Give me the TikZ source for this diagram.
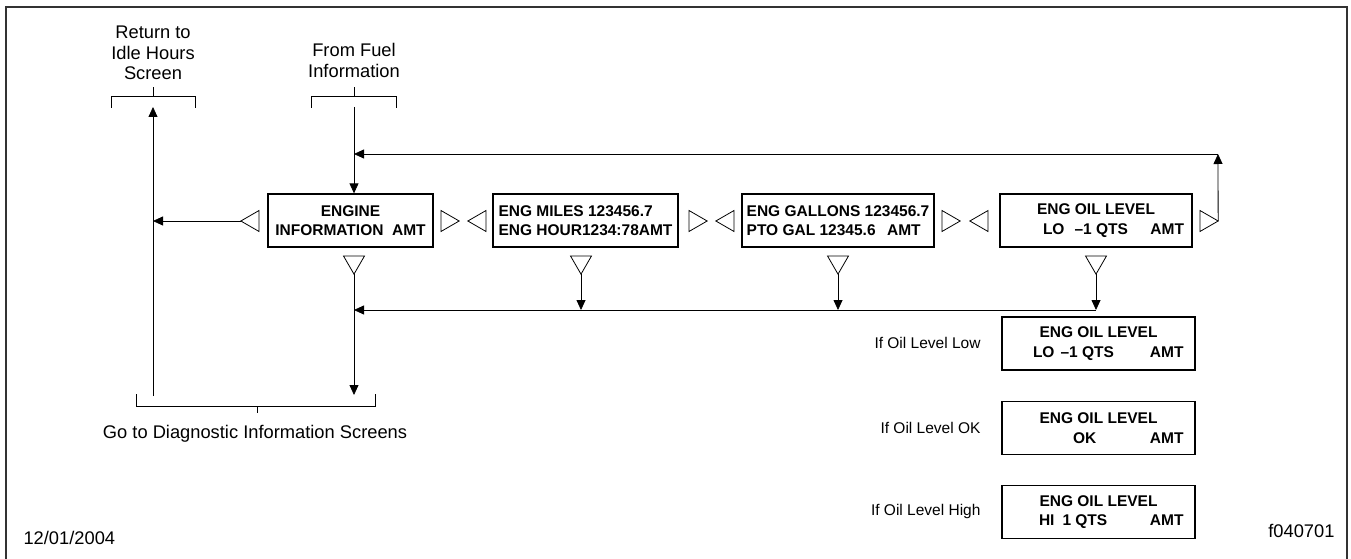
\documentclass[tikz,border=0pt]{standalone}
\usepackage{fontspec}
\setmainfont{Liberation Sans}
\usetikzlibrary{arrows.meta,shapes.geometric}

\begin{document}
\begin{tikzpicture}[x=1pt,y=-1pt, screen/.style={draw,line width=1.3pt,inner sep=0pt,minimum height=53pt,align=center,font=\fontsize{15.5}{19.5}\selectfont\bfseries}, tri/.style={draw,fill=white,line width=0.8pt,regular polygon,regular polygon sides=3,minimum size=24.2pt,inner sep=0pt,outer sep=0pt,anchor=side 2}, lbl/.style={align=center,font=\fontsize{18.3}{20.3}\selectfont}, oillbl/.style={anchor=east,font=\fontsize{15.5}{18}\selectfont}, arr/.style={-{Triangle[length=10pt,width=9pt]},line width=0.8pt}, brk/.style={line width=0.8pt}]
\useasboundingbox (0,0) rectangle (1351,559);
\draw[line width=2pt,black!80] (6,559) -- (6,7) -- (1347,7) -- (1347,559);
% labels and brackets
\node[lbl] (idle) at (153,53) {Return to\\Idle Hours\\Screen};
\node[lbl] (fuel) at (354,60.5) {From Fuel\\Information};
\node[lbl] (diag) at (255,434) {Go to Diagnostic Information Screens};
\node[lbl,anchor=west] (date) at (20,538) {12/01/2004};
\node[lbl,anchor=east] (fig) at (1338,531) {f040701};
\draw[brk] (111,108) -- (111,96) -- (195,96) -- (195,108) (153,96) -- (153,87);
\draw[brk] (311,108) -- (311,96) -- (396,96) -- (396,108) (354,96) -- (354,87);
\draw[brk] (136,394) -- (136,406) -- (375,406) -- (375,394) (257,406) -- (257,413);
% screens
\node[screen,minimum width=165pt] (b1) at (350.5,220.5) {ENGINE\\INFORMATION\ \ AMT};
\node[screen,minimum width=185pt,align=left] (b2) at (585.5,220.5) {ENG MILES 123456.7\\ENG HOUR1234:78AMT};
\node[screen,minimum width=192pt,align=left] (b3) at (838,220.5) {ENG GALLONS 123456.7\\\makebox[174pt][l]{PTO GAL 12345.6\hfill AMT}};
\node[screen,minimum width=192pt] (b4) at (1096,220.5) {ENG OIL LEVEL\\\makebox[176pt][l]{\hspace*{35pt}LO\hspace{10pt}–1 QTS\hfill AMT}};
\node[screen,minimum width=193pt] (lo) at (1098.5,343.5) {ENG OIL LEVEL\\\makebox[170pt][l]{\hspace*{19.5pt}LO\hspace{6pt}–1 QTS\hfill AMT}};
\node[screen,minimum width=193pt] (ok) at (1098.5,428) {ENG OIL LEVEL\\\makebox[170pt][l]{\hspace*{59.5pt}OK\hfill AMT}};
\node[screen,minimum width=193pt] (hi) at (1098.5,512) {ENG OIL LEVEL\\\makebox[170pt][l]{\hspace*{25.5pt}HI\hspace{8pt}1 QTS\hfill AMT}};
\node[oillbl] (lolbl) at (984,343) {If Oil Level Low};
\node[oillbl] (oklbl) at (984,428) {If Oil Level OK};
\node[oillbl] (hilbl) at (984,511) {If Oil Level High};
% scroll buttons
\node[tri,regular polygon rotate=90] (tl1) at (259,221) {};
\node[tri,regular polygon rotate=-90] (tr1) at (441,221) {};
\node[tri,regular polygon rotate=90] (tl2) at (486,221) {};
\node[tri,regular polygon rotate=-90] (tr2) at (689,221) {};
\node[tri,regular polygon rotate=90] (tl3) at (734,221) {};
\node[tri,regular polygon rotate=-90] (tr3) at (942,221) {};
\node[tri,regular polygon rotate=90] (tl4) at (988,221) {};
\node[tri,regular polygon rotate=-90] (tr4) at (1200,221) {};
\node[tri,regular polygon rotate=180] (td1) at (354,256) {};
\node[tri,regular polygon rotate=180] (td2) at (581,256) {};
\node[tri,regular polygon rotate=180] (td3) at (838,256) {};
\node[tri,regular polygon rotate=180] (td4) at (1096,256) {};
% connectors
\coordinate (idleUp) at (153,107);
\coordinate (idleDn) at (153,396);
\coordinate (fuelIn) at (354,107);
\coordinate (loopTR) at (1218,154);
\coordinate (loopTL) at (354,154);
\coordinate (busR) at (1096,310);
\coordinate (busL) at (354,310);
\coordinate (diagIn) at (354,395);
\draw[arr] (idleDn) -- (idleUp);
\draw[arr] (fuelIn) -- (fuelIn |- b1.north);
\draw[arr] (tl1.corner 1) -- (tl1.corner 1 -| idleUp);
\draw[arr] (tr4.corner 1) -- (loopTR);
\draw[arr] (loopTR) -- (loopTL);
\draw[arr] (td1.corner 1) -- (diagIn);
\draw[arr] (td4.corner 1) -- (busR);
\draw[arr] (busR) -- (busL);
\draw[arr] (td2.corner 1) -- (td2.corner 1 |- busR);
\draw[arr] (td3.corner 1) -- (td3.corner 1 |- busR);
\end{tikzpicture}
\end{document}
